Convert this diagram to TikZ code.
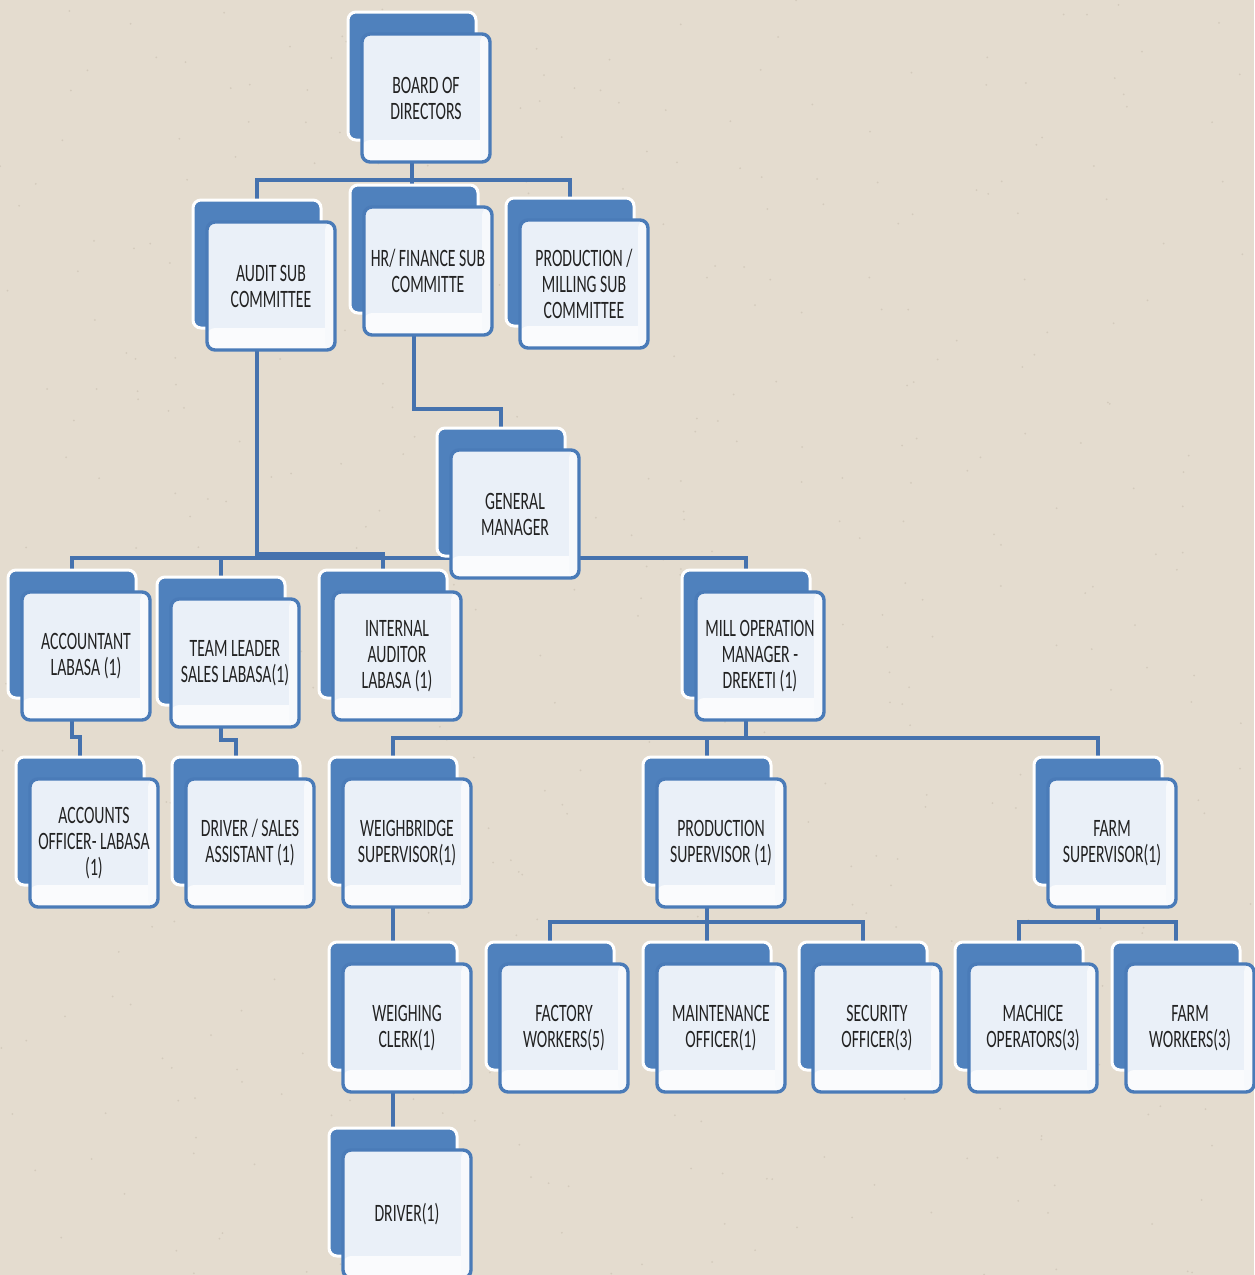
\documentclass[tikz,border=0pt]{standalone}
\usepackage{fontspec}
\setmainfont{Carlito}[FakeStretch=0.63]
\definecolor{bgbeige}{HTML}{E4DCCF}
\definecolor{speck}{HTML}{C9BFB0}
\definecolor{boxblue}{HTML}{4F81BD}
\definecolor{borderblue}{HTML}{4A7BB8}
\definecolor{lineblue}{HTML}{4572AE}
\definecolor{frontfill}{HTML}{EAF0F8}
\definecolor{textgray}{HTML}{222222}
\pgfdeclarelayer{bgfill}
\pgfdeclarelayer{edges}
\pgfsetlayers{bgfill,edges,main}
\tikzset{
  backbox/.style={draw=white, line width=1.5pt, fill=boxblue, rounded corners=4pt,
    minimum width=64pt, minimum height=64pt, inner sep=0pt},
  frontbox/.style={draw=borderblue, line width=1.7pt, fill=frontfill, rounded corners=4pt,
    minimum width=64pt, minimum height=64pt, inner sep=0pt, align=center,
    font=\fontsize{12.5}{13}\selectfont, text=textgray,
    path picture={\fill[white!75!frontfill] ([yshift=11pt]path picture bounding box.south west) rectangle (path picture bounding box.south east);
                  \fill[white!60!frontfill] ([xshift=-5pt]path picture bounding box.north east) rectangle (path picture bounding box.south east);}},
  conn/.style={draw=lineblue, line width=2pt}
}
\newcommand\orgbox[4]{%
  \node[backbox] (#1b) at (#2+64,#3+64) {};
  \node[frontbox] (#1) at (#2+78,#3+86) {#4};
}
\begin{document}
\begin{tikzpicture}[x=0.5pt,y=-0.5pt]
\useasboundingbox (0,0) rectangle (1254,1275);
\begin{pgfonlayer}{bgfill}
  \fill[bgbeige] (0,0) rectangle (1254,1275);
  \pgfmathsetseed{7}
  \foreach \i in {1,...,500}{
    \fill[speck, opacity=0.6] (rnd*1254,rnd*1275) circle (0.5pt);
  }
\end{pgfonlayer}

\orgbox{board}{348}{12}{BOARD OF\\DIRECTORS}
\orgbox{audit}{193}{200}{AUDIT SUB\\COMMITTEE}
\orgbox{hr}{350}{185}{HR/ FINANCE SUB\\COMMITTE}
\orgbox{prodmill}{506}{198}{PRODUCTION /\\MILLING SUB\\COMMITTEE}
\orgbox{gm}{437}{428}{GENERAL\\MANAGER}
\orgbox{acc}{8}{570}{ACCOUNTANT\\LABASA (1)}
\orgbox{team}{157}{577}{TEAM LEADER\\SALES LABASA(1)}
\orgbox{int}{319}{570}{INTERNAL\\AUDITOR\\LABASA (1)}
\orgbox{mill}{682}{570}{MILL OPERATION\\MANAGER -\\DREKETI (1)}
\orgbox{acctoff}{16}{757}{ACCOUNTS\\OFFICER- LABASA\\(1)}
\orgbox{drvsales}{172}{757}{DRIVER / SALES\\ASSISTANT (1)}
\orgbox{weighb}{329}{757}{WEIGHBRIDGE\\SUPERVISOR(1)}
\orgbox{prodsup}{643}{757}{PRODUCTION\\SUPERVISOR (1)}
\orgbox{farmsup}{1034}{757}{FARM\\SUPERVISOR(1)}
\orgbox{clerk}{329}{942}{WEIGHING\\CLERK(1)}
\orgbox{factory}{486}{942}{FACTORY\\WORKERS(5)}
\orgbox{maint}{643}{942}{MAINTENANCE\\OFFICER(1)}
\orgbox{security}{799}{942}{SECURITY\\OFFICER(3)}
\orgbox{machice}{955}{942}{MACHICE\\OPERATORS(3)}
\orgbox{farmw}{1112}{942}{FARM\\WORKERS(3)}
\orgbox{driver}{329}{1128}{DRIVER(1)}

\begin{pgfonlayer}{edges}
  \coordinate (yb) at (0,180);
  \coordinate (yh) at (0,409);
  \coordinate (ya) at (0,554);
  \coordinate (yj1) at (0,737);
  \coordinate (yj2) at (0,740);
  \coordinate (ym) at (0,738);
  \coordinate (yp) at (0,922);
  % board
  \draw[conn] (boardb.south) -- (boardb.south |- yb) -| (auditb.north);
  \draw[conn] (boardb.south |- yb) -| (prodmillb.north);
  \draw[conn] (boardb.south) -- (boardb.south |- hrb.north);
  % HR to GM
  \draw[conn] (hrb.south) -- (hrb.south |- yh) -| (gmb.north);
  % audit
  \draw[conn] (auditb.south) -- (auditb.south |- ya) -| (intb.north);
  % GM
  \draw[conn] (gmb.south) -| (accb.north);
  \draw[conn] (gmb.south) -| (teamb.north);
  \draw[conn] (gmb.south) -| (intb.north);
  \draw[conn] (gmb.south) -| (millb.north);
  % jogs
  \draw[conn] (accb.south) -- (accb.south |- yj1) -| (acctoffb.north);
  \draw[conn] (teamb.south) -- (teamb.south |- yj2) -| (drvsalesb.north);
  % mill
  \draw[conn] (millb.south) -- (millb.south |- ym) -| (weighbb.north);
  \draw[conn] (millb.south |- ym) -| (prodsupb.north);
  \draw[conn] (millb.south |- ym) -| (farmsupb.north);
  % weighbridge chain
  \draw[conn] (weighbb.south) -- (clerkb.north);
  \draw[conn] (clerkb.south) -- (driverb.north);
  % production supervisor
  \draw[conn] (prodsupb.south) -- (prodsupb.south |- yp) -| (factoryb.north);
  \draw[conn] (prodsupb.south |- yp) -| (maintb.north);
  \draw[conn] (prodsupb.south |- yp) -| (securityb.north);
  % farm supervisor
  \draw[conn] (farmsupb.south) -- (farmsupb.south |- yp) -| (machiceb.north);
  \draw[conn] (farmsupb.south |- yp) -| (farmwb.north);
\end{pgfonlayer}
\end{tikzpicture}
\end{document}
